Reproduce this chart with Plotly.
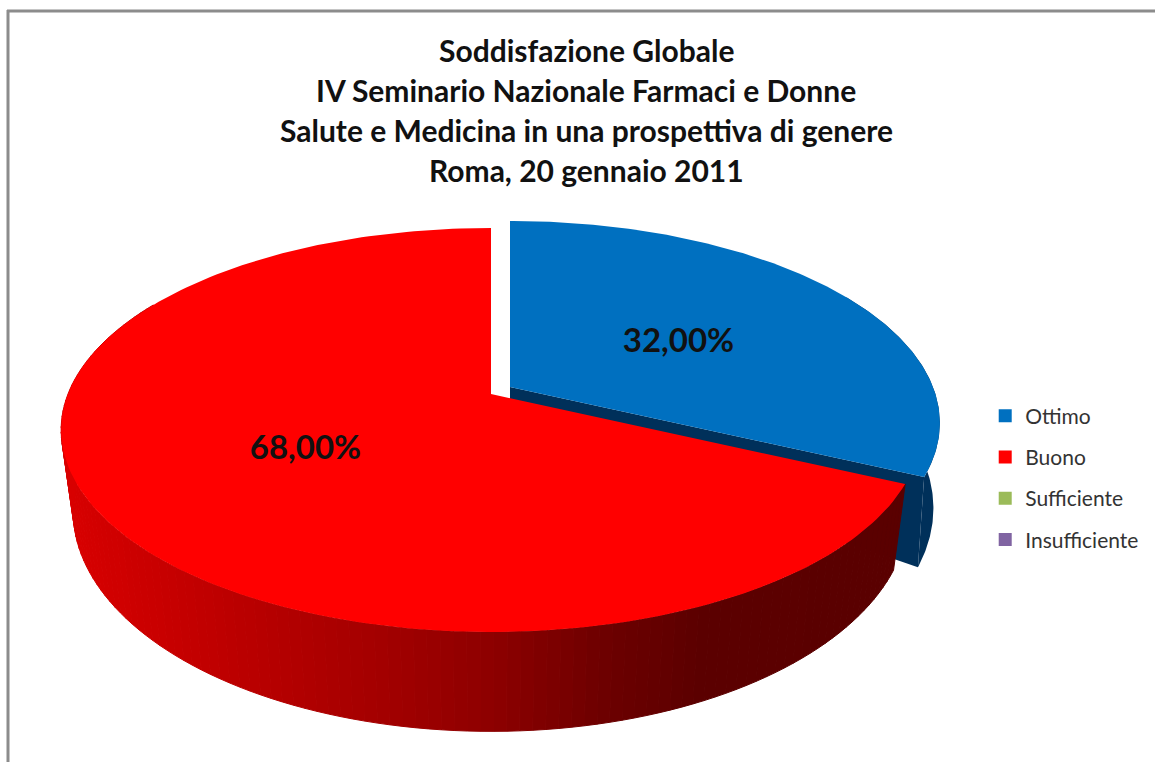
import numpy as np
import plotly.graph_objects as go

# --- data -----------------------------------------------------------------
CATEGORIES = ["Ottimo", "Buono", "Sufficiente", "Insufficiente"]
VALUES = [32.0, 68.0, 0.0, 0.0]
COLORS = ["#0070c0", "#ff0000", "#9bbb59", "#8064a2"]
TITLE_LINES = [
    "Soddisfazione Globale",
    "IV Seminario Nazionale Farmaci e Donne",
    "Salute e Medicina in una prospettiva di genere",
    "Roma, 20 gennaio 2011",
]
SIDE_STOPS_X = [60, 200, 400, 500, 600, 700, 920]
SIDE_STOPS_R = [218, 194, 160, 140, 110, 92, 90]
BLUE_SIDE = "#00305a"

# --- perspective model of the tilted disc ---------------------------------
CX, CY = 491.0, 394.0
A, B, K = 423.0, 195.6, 0.178
LOW_SX, LOW_SY, LOW_Y = 0.972, 1.09, 472.0
EXPLODE = (19.0, -7.0)
EXPLODE_LOW = (19.0, -3.0)
BLUE_LOW_SX = 0.985
LABEL_NUDGE = [(-2, 7), (2, 2)]
SIDE_END_ANGLE = 300.0


def top(phi_deg, r=1.0):
    p = np.radians(phi_deg)
    u, v = r * np.sin(p), r * np.cos(p)
    w = 1 + K * v
    return CX + A * u / w, CY - B * v / w


def low(phi_deg, sx=LOW_SX):
    p = np.radians(phi_deg)
    u, v = np.sin(p), np.cos(p)
    w = 1 + K * v
    return CX + sx * A * u / w, LOW_Y - LOW_SY * B * v / w


def wedge(a0, a1):
    phi = np.linspace(a0, a1, 200)
    x, y = top(phi)
    return np.r_[CX, x, CX], np.r_[CY, y, CY]


def poly(x, y, color, line=0.0):
    return go.Scatter(x=list(x), y=list(y), mode="lines", fill="toself", fillcolor=color,
                      line=dict(color=color, width=line), showlegend=False, hoverinfo="skip")


total = sum(VALUES)
angles = np.cumsum([0.0] + [v / total * 360 for v in VALUES])
a_blue0, a_blue1 = angles[0], angles[1]
a_red0, a_red1 = angles[1], angles[2]

fig = go.Figure()

# exploded blue slice: side, then top
dx, dy = EXPLODE
ldx, ldy = EXPLODE_LOW
phi = np.linspace(a_blue0 + 60, a_blue1, 120)
tx, ty = top(phi)
lx, ly = low(phi, BLUE_LOW_SX)
fig.add_trace(poly(np.r_[tx + dx, (lx + ldx)[::-1]], np.r_[ty + dy, (ly + ldy)[::-1]], BLUE_SIDE))
wx, wy = wedge(a_blue0, a_blue1)
fig.add_trace(poly([CX + dx, tx[-1] + dx, lx[-1] + ldx, CX + dx],
                   [CY + dy, ty[-1] + dy, ly[-1] + ldy, CY + dy + 40], BLUE_SIDE))
fig.add_trace(poly(wx + dx, wy + dy, COLORS[0]))

# red slice: graded side strips, then top
edges = np.arange(a_red0, min(a_red1, SIDE_END_ANGLE), 1.5)
for a0, a1 in zip(edges[:-1], edges[1:]):
    x0, y0 = top(a0)
    x1, y1 = top(a1)
    x2, y2 = low(a1)
    x3, y3 = low(a0)
    shade = int(np.interp((x0 + x1 + x2 + x3) / 4, SIDE_STOPS_X, SIDE_STOPS_R))
    c = f"rgb({shade},0,0)"
    fig.add_trace(poly([x0, x1, x2, x3, x0], [y0, y1, y2, y3, y0], c, line=1))
wx, wy = wedge(a_red0, a_red1)
fig.add_trace(poly(wx, wy, COLORS[1]))

# value labels
for i, (a0, a1) in enumerate(zip(angles[:2], angles[1:3])):
    lx_, ly_ = top((a0 + a1) / 2, 0.5)
    off = EXPLODE if i == 0 else (0, 0)
    fig.add_trace(go.Scatter(x=[lx_ + off[0] + LABEL_NUDGE[i][0]], y=[ly_ + off[1] + LABEL_NUDGE[i][1]],
                             mode="text",
                             text=[f"{VALUES[i]:.2f}%".replace(".", ",")],
                             textposition="middle center",
                             textfont=dict(family="Lato", size=33, color="#111111", weight="bold"),
                             showlegend=False, hoverinfo="skip"))

# legend entries
for name, color in zip(CATEGORIES, COLORS):
    fig.add_trace(go.Scatter(x=[None], y=[None], mode="markers", name=name, legendgroup=name,
                             marker=dict(symbol="square", size=13, color=color)))

for line_text, y in zip(TITLE_LINES, [50, 90, 130, 170]):
    fig.add_annotation(x=586, y=y, xref="x", yref="y", text=line_text, showarrow=False,
                       font=dict(family="Lato", size=30, color="#111111", weight="bold"))

fig.update_layout(
    width=1155, height=762, margin=dict(l=0, r=0, t=0, b=0),
    paper_bgcolor="white", plot_bgcolor="white",
    xaxis=dict(visible=False, range=[0, 1155], fixedrange=True),
    yaxis=dict(visible=False, range=[762, 0], fixedrange=True),
    legend=dict(x=0.853, y=0.481, xanchor="left", yanchor="top", tracegroupgap=11,
                font=dict(family="Lato", size=21, color="#333333"),
                bgcolor="rgba(0,0,0,0)"),
    shapes=[
        dict(type="line", xref="x", yref="y", x0=8, x1=8, y0=10, y1=762, line=dict(color="#8c8c8c", width=3)),
        dict(type="line", xref="x", yref="y", x0=7, x1=1155, y0=11, y1=11, line=dict(color="#8c8c8c", width=3)),
    ],
)
fig.write_html("out.html", config={"displayModeBar": False},
               post_script="document.body.style.margin='0';document.documentElement.style.overflow='hidden';")
